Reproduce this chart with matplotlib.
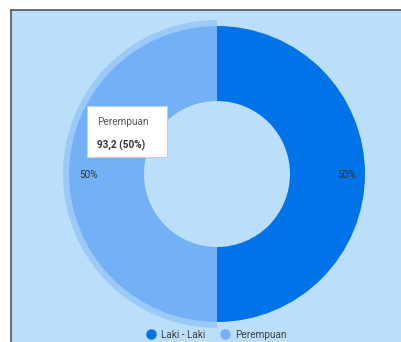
import matplotlib.pyplot as plt
from matplotlib.lines import Line2D

plt.rcParams["font.family"] = ["Roboto", "DejaVu Sans"]

# data
labels = ["Laki - Laki", "Perempuan"]
values = [93.2, 93.2]
colors = ["#0073e8", "#74b0f5"]
hover_label = "Perempuan"

total = sum(values)
pcts = [v / total * 100 for v in values]

fig = plt.figure(figsize=(4.02, 3.42), dpi=100, facecolor="white")
# axes covers the blue panel (runs past the right edge), data units = pixels
ax = fig.add_axes([11 / 402, -5 / 342, 396 / 402, 337 / 342])
ax.set_facecolor("#bbdefb")

cx, cy = 217, 168
r_out, r_in = 148, 73

# hover halo on the highlighted slice
halo_colors = ["none" if l != hover_label else "#9ccaf8" for l in labels]
ax.pie(values, colors=halo_colors, startangle=90, counterclock=False,
       center=(cx, cy), radius=r_out + 6, frame=True,
       wedgeprops=dict(width=6, linewidth=0))

wedges, _ = ax.pie(values, colors=colors, startangle=90, counterclock=False,
                   center=(cx, cy), radius=r_out, frame=True,
                   wedgeprops=dict(width=r_out - r_in, linewidth=0))

ax.set_xlim(11, 407)
ax.set_ylim(-5, 332)
ax.set_xticks([])
ax.set_yticks([])
for s in ax.spines.values():
    s.set_visible(False)

# panel border, top and left only
fig.add_artist(Line2D([11 / 402, 1], [332 / 342, 332 / 342], color="#555555",
                      linewidth=1.2, transform=fig.transFigure))
fig.add_artist(Line2D([11 / 402, 11 / 402], [0, 332 / 342], color="#555555",
                      linewidth=1.2, transform=fig.transFigure))

# percent labels
ax.text(346, 167, f"{pcts[0]:.0f}%", fontsize=7.2, color="#333333",
        ha="center", va="center")
ax.text(88, 167, f"{pcts[1]:.0f}%", fontsize=7.2, color="#333333",
        ha="center", va="center")

# tooltip
tip = plt.Rectangle((87, 342 - 157), 80, 51, facecolor="white",
                    edgecolor="#cccccc", linewidth=0.8, zorder=5)
ax.add_patch(tip)
ax.text(97, 342 - 122, hover_label, fontsize=7.2, color="#555555",
        ha="left", va="center", zorder=6)
hv = values[labels.index(hover_label)]
ax.text(97, 342 - 145, f"{hv:.1f} ({pcts[1]:.0f}%)".replace(".", ","),
        fontsize=7.2, color="#333333", fontweight="bold",
        ha="left", va="center", zorder=6)

# legend
handles = [Line2D([], [], marker="o", linestyle="none", markersize=6.5,
                  markerfacecolor=c, markeredgecolor=c) for c in colors]
ax.legend(handles, labels, loc="center",
          bbox_to_anchor=((216.5 - 11) / 396, 12 / 337),
          ncol=2, frameon=False, fontsize=7.2, labelcolor="#444444",
          handletextpad=0.5, columnspacing=1.5, handlelength=1.0)

fig.savefig("out.png", dpi=100, facecolor="white")
